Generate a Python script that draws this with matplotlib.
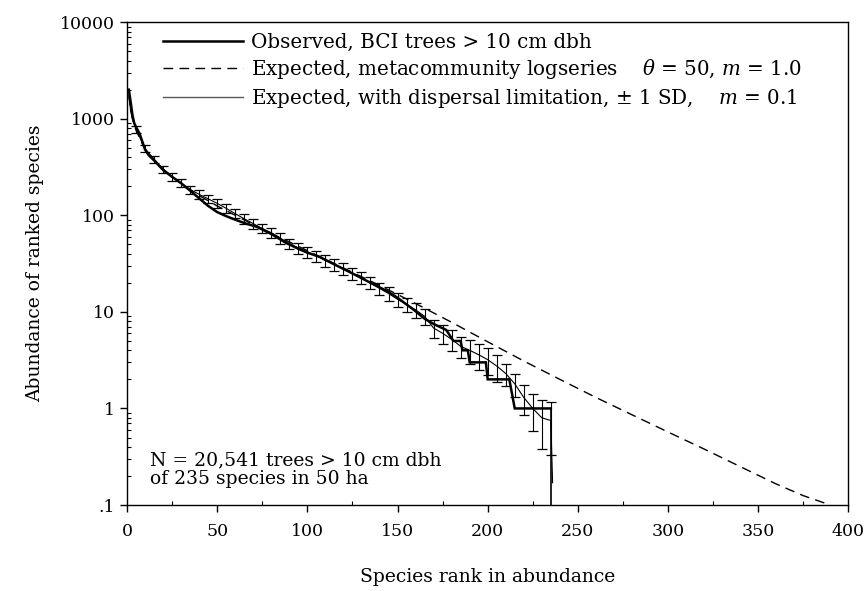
import matplotlib
matplotlib.use("Agg")
import matplotlib.pyplot as plt
from matplotlib.lines import Line2D
from matplotlib.ticker import MultipleLocator, LogLocator, NullFormatter
import numpy as np

# observed BCI rank-abundance
obs_rank = [1, 2, 3, 4, 5, 7, 10, 12, 15, 20, 25, 30, 35, 40, 45, 50, 55, 60, 66, 72,
            80, 88, 95, 100, 107, 115, 125, 135, 144, 150, 159, 165, 170, 177, 181, 185,
            186, 189, 190, 199, 200, 212, 215, 235]
obs_abund = [2000, 1500, 1100, 900, 820, 700, 480, 420, 370, 295, 250, 215, 180, 150, 125,
             108, 98, 90, 82, 76, 64, 52, 45, 41, 37, 31, 25, 20, 16.5, 14, 10.5, 8.5, 7.5,
             6.5, 5, 5, 4, 4, 3, 3, 2, 2, 1, 1]

# expected with dispersal limitation (mean and +/- 1 SD)
exp_rank = [1, 2, 3, 5, 10, 15, 20, 25, 30, 35, 40, 45, 50, 55, 60, 65, 70, 75, 80, 85,
            90, 95, 100, 105, 110, 115, 120, 125, 130, 135, 140, 145, 150, 155, 160, 165,
            170, 175, 180, 185, 190, 195, 200, 205, 210, 215, 220, 225, 230, 235, 236]
exp_mean = [1800, 1200, 1000, 780, 490, 380, 300, 250, 215, 185, 165, 148, 133, 118, 104,
            92, 82, 73, 66, 58, 51, 46, 42, 38, 34, 31, 28, 25, 22.5, 20, 17.5, 15.5, 13.5,
            12, 10.5, 9, 6.8, 6, 5.2, 4.4, 4.0, 3.6, 3.2, 2.75, 2.3, 1.8, 1.3, 1.0, 0.8,
            0.75, 0.17]
exp_sd = [0, 0, 0, 60, 40, 30, 25, 22, 20, 17, 16, 14, 13, 12, 11, 10, 9, 8, 7.5, 7,
          6.5, 6, 5.5, 5, 4.6, 4.2, 3.8, 3.5, 3.2, 2.9, 2.6, 2.4, 2.2, 2.0, 1.8, 1.7,
          1.4, 1.35, 1.3, 1.1, 1.1, 1.1, 1.0, 0.85, 0.6, 0.5, 0.45, 0.42, 0.42, 0.42, 0]

# metacommunity logseries, theta = 50
ls_rank = [1, 3, 5, 10, 20, 30, 40, 50, 60, 70, 80, 90, 100, 120, 140, 160, 180, 200,
           220, 240, 260, 280, 300, 320, 340, 360, 375, 390]
ls_abund = [1700, 1000, 760, 480, 300, 212, 160, 125, 100, 80, 65, 53, 43, 28.5, 18.8,
            12.2, 7.8, 4.9, 3.1, 2.0, 1.3, 0.86, 0.57, 0.38, 0.25, 0.165, 0.125, 0.1]

ytick_vals = [0.1, 1, 10, 100, 1000, 10000]
ytick_labels = [".1", "1", "10", "100", "1000", "10000"]

plt.rcParams["font.family"] = ["DejaVu Serif"]
plt.rcParams["mathtext.fontset"] = "dejavuserif"

fig = plt.figure(figsize=(8.67, 5.91), dpi=100)
ax = fig.add_axes([0.1465, 0.1455, 0.832, 0.817])

dash = (0, (7, 4.5))
ax.plot(ls_rank, ls_abund, color="black", lw=1.0, linestyle=dash)

# error bars only where an SD is given
eb = [i for i, s in enumerate(exp_sd) if s > 0]
ax.errorbar([exp_rank[i] for i in eb], [exp_mean[i] for i in eb],
            yerr=[exp_sd[i] for i in eb], fmt="none", ecolor="black",
            elinewidth=0.8, capsize=3.5, capthick=0.9)
ax.plot(exp_rank, exp_mean, color="black", lw=0.8)

ax.plot(obs_rank, obs_abund, color="black", lw=1.8, solid_joinstyle="miter")
ax.vlines(obs_rank[-1], 0.1, obs_abund[-1], color="black", lw=1.2)

ax.set_yscale("log")
ax.set_xlim(0, 400)
ax.set_ylim(0.1, 10000)
ax.set_yticks(ytick_vals)
ax.set_yticklabels(ytick_labels)
ax.yaxis.set_minor_locator(LogLocator(base=10, subs=np.arange(2, 10)))
ax.yaxis.set_minor_formatter(NullFormatter())
ax.xaxis.set_major_locator(MultipleLocator(50))
ax.xaxis.set_minor_locator(MultipleLocator(25))

ax.tick_params(which="major", direction="out", length=5, width=1, labelsize=12.5)
ax.tick_params(axis="y", which="major", pad=4)
ax.tick_params(axis="x", which="major", pad=8)
ax.tick_params(which="minor", direction="in", length=3, width=0.8)
for s in ax.spines.values():
    s.set_linewidth(1.0)

ax.set_xlabel("Species rank in abundance", fontsize=13.5, labelpad=20)
ax.set_ylabel("Abundance of ranked species", fontsize=13.5, labelpad=11)

handles = [
    Line2D([], [], color="black", lw=1.8),
    Line2D([], [], color="black", lw=1.0, linestyle=dash),
    Line2D([], [], color="0.35", lw=1.0),
]
labels = [
    "Observed, BCI trees > 10 cm dbh",
    r"Expected, metacommunity logseries    $\theta$ = 50, $m$ = 1.0",
    r"Expected, with dispersal limitation, $\pm$ 1 SD,    $m$ = 0.1",
]
ax.legend(handles, labels, loc="upper left", bbox_to_anchor=(0.05, 0.978),
          frameon=False, fontsize=14.3, handlelength=4.0, handletextpad=0.45,
          labelspacing=0.28, borderpad=0, borderaxespad=0)

ax.text(0.032, 0.035, "N = 20,541 trees > 10 cm dbh\nof 235 species in 50 ha",
        transform=ax.transAxes, fontsize=13.5, ha="left", va="bottom", linespacing=1.05)

fig.savefig("out.png", dpi=100)
